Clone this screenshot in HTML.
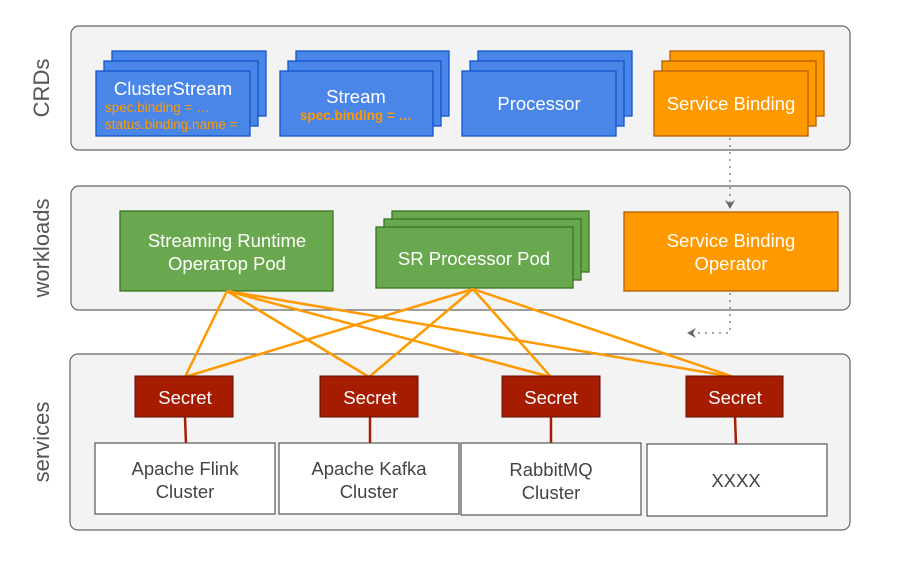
<!DOCTYPE html>
<html><head><meta charset="utf-8"><style>body{margin:0;background:#fff}svg{display:block}text{font-family:"Liberation Sans",Arial,sans-serif}</style></head><body>
<svg width="900" height="566" viewBox="0 0 900 566" xmlns="http://www.w3.org/2000/svg">
<defs><marker id="ah" markerWidth="10" markerHeight="10" refX="8" refY="5" orient="auto" markerUnits="userSpaceOnUse"><path d="M0,0 L9,5 L0,10 L3,5 Z" fill="#666"/></marker></defs>
<g fill="#f3f3f3" stroke="#666" stroke-width="1.2">
<rect x="71" y="26" width="779" height="124" rx="8"/>
<rect x="71" y="186" width="779" height="124" rx="8"/>
<rect x="70" y="354" width="780" height="176" rx="8"/>
</g>
<g fill="#555" font-size="22" text-anchor="middle">
<text transform="translate(49,88) rotate(-90)">CRDs</text>
<text transform="translate(49,248) rotate(-90)">workloads</text>
<text transform="translate(49,442) rotate(-90)">services</text>
</g>
<g fill="#4a86e8" stroke="#1155cc" stroke-width="1.3">
<rect x="112" y="51" width="154" height="65"/><rect x="104" y="61" width="154" height="65"/><rect x="96" y="71" width="154" height="65"/>
<rect x="296" y="51" width="153" height="65"/><rect x="288" y="61" width="153" height="65"/><rect x="280" y="71" width="153" height="65"/>
<rect x="478" y="51" width="154" height="65"/><rect x="470" y="61" width="154" height="65"/><rect x="462" y="71" width="154" height="65"/>
</g>
<g fill="#ff9900" stroke="#b45f06" stroke-width="1.3">
<rect x="670" y="51" width="154" height="65"/><rect x="662" y="61" width="154" height="65"/><rect x="654" y="71" width="154" height="65"/>
</g>
<g fill="#fff" font-size="18.5" text-anchor="middle">
<text x="173" y="95">ClusterStream</text>
<text x="356" y="103">Stream</text>
<text x="539" y="110">Processor</text>
<text x="731" y="110">Service Binding</text>
</g>
<g fill="#ff9900" font-size="13.5">
<text x="105" y="112">spec.binding = …</text>
<text x="105" y="129">status.binding.name =</text>
<text x="356" y="120" text-anchor="middle" font-weight="bold">spec.binding = …</text>
</g>
<g fill="#6aa84f" stroke="#38761d" stroke-width="1.3">
<rect x="120" y="211" width="213" height="80"/>
<rect x="392" y="211" width="197" height="61"/><rect x="384" y="219" width="197" height="61"/><rect x="376" y="227" width="197" height="61"/>
</g>
<rect x="624" y="212" width="214" height="79" fill="#ff9900" stroke="#b45f06" stroke-width="1.3"/>
<g fill="#fff" font-size="18.5" text-anchor="middle">
<text x="227" y="247">Streaming Runtime</text>
<text x="227" y="270">Operатор Pod</text>
<text x="474" y="265">SR Processor Pod</text>
<text x="731" y="247">Service Binding</text>
<text x="731" y="270">Operator</text>
</g>
<g stroke="#888" stroke-width="1.5" stroke-dasharray="2,5" fill="none">
<path d="M730,138 L730,208" marker-end="url(#ah)"/>
<path d="M730,293 L730,333 L688,333" marker-end="url(#ah)"/>
</g>
<g stroke="#ff9900" stroke-width="2.5" fill="none">
<path d="M227,291 L185,377 M227,291 L369,377 M227,291 L551,377 M227,291 L734,377"/>
<path d="M473,289 L185,377 M473,289 L369,377 M473,289 L551,377 M473,289 L734,377"/>
</g>
<g stroke="#a61c00" stroke-width="2.5">
<path d="M185,417 L186,444 M370,417 L370,444 M551,417 L551,444 M735,417 L736,445"/>
</g>
<g fill="#a61c00" stroke="#5b0f00" stroke-width="1">
<rect x="135" y="376" width="98" height="41"/>
<rect x="320" y="376" width="98" height="41"/>
<rect x="502" y="376" width="98" height="41"/>
<rect x="686" y="376" width="97" height="41"/>
</g>
<g fill="#fff" font-size="18.5" text-anchor="middle">
<text x="185" y="404">Secret</text><text x="370" y="404">Secret</text><text x="551" y="404">Secret</text><text x="735" y="404">Secret</text>
</g>
<g fill="#fff" stroke="#555" stroke-width="1.2">
<rect x="95" y="443" width="180" height="71"/>
<rect x="279" y="443" width="180" height="71"/>
<rect x="461" y="443" width="180" height="72"/>
<rect x="647" y="444" width="180" height="72"/>
</g>
<g fill="#444" font-size="18.5" text-anchor="middle">
<text x="185" y="475">Apache Flink</text><text x="185" y="498">Cluster</text>
<text x="369" y="475">Apache Kafka</text><text x="369" y="498">Cluster</text>
<text x="551" y="476">RabbitMQ</text><text x="551" y="499">Cluster</text>
<text x="736" y="487">XXXX</text>
</g>
</svg>
</body></html>
